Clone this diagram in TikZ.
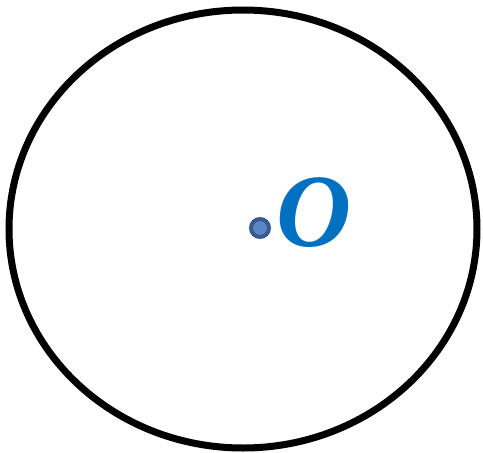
\documentclass[tikz,border=0pt]{standalone}
\usepackage{fontspec}
\setmainfont{Liberation Serif}
\definecolor{oblue}{HTML}{0070C0}
\definecolor{dotfill}{HTML}{5A86C5}
\definecolor{dotedge}{HTML}{3B5B8C}
\begin{document}
\begin{tikzpicture}[x=1pt,y=-1pt,
  outline/.style={draw=black,line width=7pt},
  centerdot/.style={circle,fill=dotfill,draw=dotedge,line width=4pt,minimum size=18pt,inner sep=0pt},
  label/.style={text=oblue,font=\fontsize{104}{104}\selectfont\bfseries\itshape,inner sep=0pt}]
\useasboundingbox (0,0) rectangle (483,453);
\draw[outline] (243,229) ellipse [x radius=234, y radius=219];
\node[centerdot] (c) at (260,228) {};
\node[label] (o) at (314,213) {O};
\end{tikzpicture}
\end{document}
